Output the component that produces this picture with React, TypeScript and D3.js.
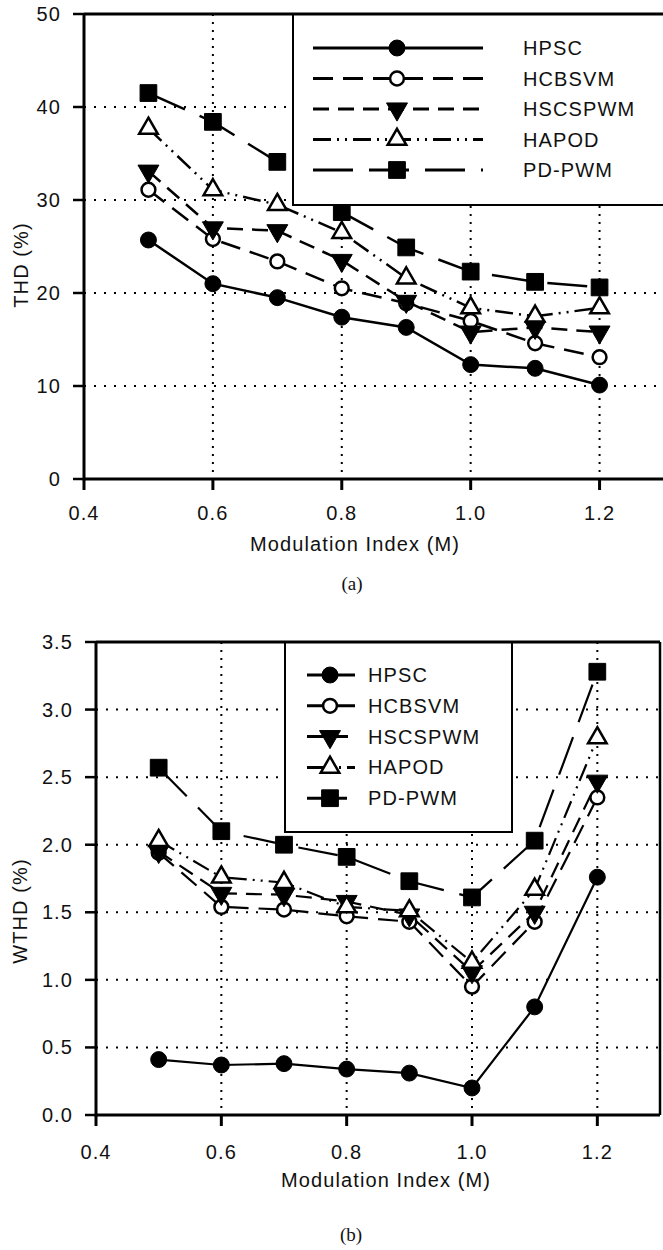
import React from "react";
import * as d3 from "d3";

// modulation index values (x)
const mIndex = [0.5, 0.6, 0.7, 0.8, 0.9, 1.0, 1.1, 1.2];
const seriesNames = ["HPSC", "HCBSVM", "HSCSPWM", "HAPOD", "PD-PWM"];

// (a) THD %
const thdHPSC = [25.7, 21.0, 19.5, 17.4, 16.3, 12.3, 11.9, 10.1];
const thdHCBSVM = [31.1, 25.8, 23.4, 20.5, 18.9, 17.0, 14.6, 13.1];
const thdHSCSPWM = [33.1, 27.0, 26.7, 23.5, 19.1, 15.8, 16.3, 15.8];
const thdHAPOD = [37.7, 31.1, 29.5, 26.5, 21.6, 18.4, 17.5, 18.4];
const thdPDPWM = [41.5, 38.4, 34.1, 28.7, 24.9, 22.3, 21.2, 20.6];

// (b) WTHD %
const wthdHPSC = [0.41, 0.37, 0.38, 0.34, 0.31, 0.2, 0.8, 1.76];
const wthdHCBSVM = [1.94, 1.54, 1.52, 1.47, 1.43, 0.95, 1.43, 2.35];
const wthdHSCSPWM = [1.95, 1.64, 1.63, 1.58, 1.48, 1.06, 1.5, 2.47];
const wthdHAPOD = [2.03, 1.76, 1.72, 1.54, 1.51, 1.13, 1.67, 2.79];
const wthdPDPWM = [2.57, 2.1, 2.0, 1.91, 1.73, 1.61, 2.03, 3.28];

// tick labels
const xTicks = [0.4, 0.6, 0.8, 1.0, 1.2];
const thdTicks = [0, 10, 20, 30, 40, 50];
const wthdTicks = [0, 0.5, 1.0, 1.5, 2.0, 2.5, 3.0, 3.5];

const FONT = "'Liberation Sans', Arial, sans-serif";

// marker + dash per series
const styles = [
  { shape: "circle", filled: true, dash: "none" },
  { shape: "circle", filled: false, dash: "20,10" },
  { shape: "tridown", filled: true, dash: "16,9" },
  { shape: "triup", filled: false, dash: "18,6,2,6,2,6" },
  { shape: "square", filled: true, dash: "40,16" },
];

function markerPath(shape: string, filled: boolean) {
  if (shape === "circle") return d3.symbol().type(d3.symbolCircle).size(filled ? 200 : 150)()!;
  if (shape === "square") return d3.symbol().type(d3.symbolSquare).size(280)()!;
  return d3.symbol().type(d3.symbolTriangle).size(filled ? 190 : 150)()!;
}

function Marker({ x, y, i }: { x: number; y: number; i: number }) {
  const s = styles[i];
  const rot = s.shape === "tridown" ? " rotate(180)" : "";
  return (
    <path
      d={markerPath(s.shape, s.filled)}
      transform={`translate(${x},${y})${rot}`}
      fill={s.filled ? "#000" : "#fff"}
      stroke="#000"
      strokeWidth={s.filled ? 1 : 2.5}
    />
  );
}

type PanelProps = {
  data: number[][];
  ticks: number[];
  fmt: (v: number) => string;
  plot: { left: number; right: number; top: number; bottom: number };
  legend: { x: number; y: number; w: number; h: number; row0: number; step: number; l1: number; l2: number; mx: number; tx: number };
  lineW: number;
  yLabel: string;
  yLabelPos: [number, number];
  xTitleX: number;
  tickY: number;
  titleY: number;
  caption: string;
  captionPos: [number, number];
  showRight: boolean;
};

function Panel(p: PanelProps) {
  const x = d3.scaleLinear().domain([0.4, 1.3]).range([p.plot.left, p.plot.right]);
  const yMax = p.ticks[p.ticks.length - 1];
  const y = d3.scaleLinear().domain([0, yMax]).range([p.plot.bottom, p.plot.top]);
  const line = d3
    .line<number>()
    .x((_, j) => x(mIndex[j]))
    .y((d) => y(d));
  const textStyle = { fontFamily: FONT, fontSize: 20, letterSpacing: 1.1, fill: "#111" };
  const L = p.legend;

  return (
    <g>
      {/* grid */}
      {p.ticks.slice(1, -1).map((t) => (
        <line key={"h" + t} x1={p.plot.left} x2={p.plot.right} y1={y(t)} y2={y(t)}
          stroke="#000" strokeWidth={2} strokeDasharray="2,8" />
      ))}
      {xTicks.slice(1).map((t) => (
        <line key={"v" + t} x1={x(t)} x2={x(t)} y1={p.plot.top} y2={p.plot.bottom}
          stroke="#000" strokeWidth={2} strokeDasharray="2,6" />
      ))}

      {/* series */}
      {p.data.map((vals, i) => (
        <g key={seriesNames[i]}>
          <path d={line(vals)!} fill="none" stroke="#000" strokeWidth={p.lineW}
            strokeDasharray={styles[i].dash} />
          {vals.map((v, j) => (
            <Marker key={j} x={x(mIndex[j])} y={y(v)} i={i} />
          ))}
        </g>
      ))}

      {/* legend */}
      <rect x={L.x} y={L.y} width={L.w} height={L.h} fill="#fff" stroke="#000" strokeWidth={2} />
      {seriesNames.map((name, i) => {
        const ly = L.row0 + i * L.step;
        return (
          <g key={name}>
            <line x1={L.l1} x2={L.l2} y1={ly} y2={ly} stroke="#000" strokeWidth={3}
              strokeDasharray={styles[i].dash} />
            <Marker x={L.mx} y={ly} i={i} />
            <text x={L.tx} y={ly + 7} style={textStyle}>{name}</text>
          </g>
        );
      })}

      {/* axes */}
      <line x1={p.plot.left} x2={p.plot.left} y1={p.plot.top} y2={p.plot.bottom + 1.5} stroke="#000" strokeWidth={3} />
      <line x1={p.plot.left} x2={p.plot.right} y1={p.plot.bottom} y2={p.plot.bottom} stroke="#000" strokeWidth={3} />
      <line x1={p.plot.left} x2={p.plot.right} y1={p.plot.top} y2={p.plot.top} stroke="#000" strokeWidth={3} />
      {p.showRight && (
        <line x1={p.plot.right} x2={p.plot.right} y1={p.plot.top} y2={p.plot.bottom} stroke="#000" strokeWidth={2.5} />
      )}
      {p.ticks.map((t) => (
        <g key={"yt" + t}>
          <line x1={p.plot.left - 11} x2={p.plot.left} y1={y(t)} y2={y(t)} stroke="#000" strokeWidth={2.5} />
          <text x={p.plot.left - 23} y={y(t) + 7} textAnchor="end" style={textStyle}>{p.fmt(t)}</text>
        </g>
      ))}
      {xTicks.map((t) => (
        <g key={"xt" + t}>
          <line x1={x(t)} x2={x(t)} y1={p.plot.bottom} y2={p.plot.bottom + 11} stroke="#000" strokeWidth={3} />
          <text x={x(t)} y={p.tickY} textAnchor="middle" style={textStyle}>{d3.format(".1f")(t)}</text>
        </g>
      ))}

      {/* titles */}
      <text x={p.xTitleX} y={p.titleY} textAnchor="middle" style={textStyle}>Modulation Index (M)</text>
      <text transform={`translate(${p.yLabelPos[0]},${p.yLabelPos[1]}) rotate(-90)`} textAnchor="middle" style={textStyle}>
        {p.yLabel}
      </text>
      <text x={p.captionPos[0]} y={p.captionPos[1]} textAnchor="middle"
        style={{ fontFamily: "'Liberation Serif', 'Times New Roman', serif", fontSize: 19, fill: "#111" }}>
        {p.caption}
      </text>
    </g>
  );
}

export default function App() {
  return (
    <div style={{ position: "absolute", left: 0, top: 0 }}>
      <svg width={663} height={1250} style={{ display: "block", background: "#fff" }}>
        <Panel
          data={[thdHPSC, thdHCBSVM, thdHSCSPWM, thdHAPOD, thdPDPWM]}
          ticks={thdTicks}
          fmt={(v) => String(v)}
          plot={{ left: 84, right: 664, top: 14, bottom: 479 }}
          legend={{ x: 293, y: 14, w: 375, h: 191, row0: 48, step: 30.5, l1: 313, l2: 483, mx: 397, tx: 523 }}
          lineW={2.5}
          yLabel="THD (%)"
          yLabelPos={[28, 265]}
          xTitleX={355}
          tickY={520}
          titleY={551}
          caption="(a)"
          captionPos={[352, 590]}
          showRight={false}
        />
        <Panel
          data={[wthdHPSC, wthdHCBSVM, wthdHSCSPWM, wthdHAPOD, wthdPDPWM]}
          ticks={wthdTicks}
          fmt={d3.format(".1f")}
          plot={{ left: 96, right: 660, top: 642, bottom: 1115 }}
          legend={{ x: 285, y: 642, w: 227, h: 190, row0: 675, step: 30.8, l1: 307, l2: 355, mx: 330, tx: 368 }}
          lineW={2.2}
          yLabel="WTHD (%)"
          yLabelPos={[27, 911]}
          xTitleX={386}
          tickY={1159}
          titleY={1187}
          caption="(b)"
          captionPos={[351, 1241]}
          showRight={true}
        />
      </svg>
    </div>
  );
}
